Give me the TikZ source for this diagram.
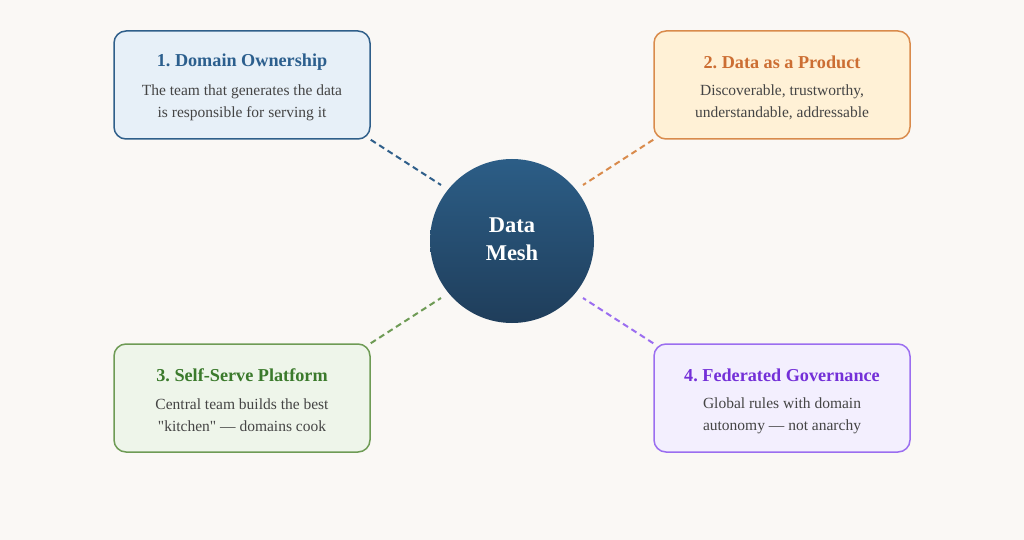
\documentclass[tikz,border=0pt]{standalone}
\usepackage{fontspec}
\setmainfont{Liberation Serif}
\newfontfamily\rawserif{Liberation Serif}[Ligatures=TeXOff]
\usetikzlibrary{positioning}
\definecolor{bgc}{HTML}{FAF8F5}
\definecolor{bodyc}{HTML}{444444}
\definecolor{blueS}{HTML}{2F5F8A}\definecolor{blueF}{HTML}{E7F0F8}\definecolor{blueT}{HTML}{2C5F8E}
\definecolor{orS}{HTML}{D98B4C}\definecolor{orF}{HTML}{FFF1D6}\definecolor{orT}{HTML}{CC6E33}
\definecolor{grS}{HTML}{6E9B55}\definecolor{grF}{HTML}{EEF5EA}\definecolor{grT}{HTML}{3B7A2C}
\definecolor{puS}{HTML}{9B6EF0}\definecolor{puF}{HTML}{F3EFFE}\definecolor{puT}{HTML}{7430D8}
\definecolor{circTop}{HTML}{2C5E87}\definecolor{circBot}{HTML}{1F3D5A}
\frenchspacing
\tikzset{
  card/.style={draw=#1, line width=1.5pt, rounded corners=12pt, minimum width=256pt, minimum height=108pt, inner sep=0pt},
  ttl/.style={font=\fontsize{18.2}{21}\selectfont\bfseries, text=#1, inner sep=0pt},
  bodytxt/.style={font=\fontsize{15.5}{22}\selectfont, text=bodyc, align=center, inner sep=0pt},
  link/.style={draw=#1, line width=2pt, dash pattern=on 6pt off 4pt},
}
\begin{document}
\begin{tikzpicture}[x=1pt,y=-1pt]
\fill[bgc] (0,0) rectangle (1024,540);
\useasboundingbox (0,0) rectangle (1024,540);
% center
\node[circle, minimum size=164pt, inner sep=0pt, draw=none,
  path picture={\shade[top color=circTop, bottom color=circBot]
    ([shift={(-2pt,2pt)}]path picture bounding box.north west) rectangle ([shift={(2pt,-2pt)}]path picture bounding box.south east);}] (hub) at (512,241) {};
\node[font=\fontsize{22.5}{28}\selectfont\bfseries, text=white, align=center] (hubtxt) at (512,239) {Data\\Mesh};
% cards
\node[card=blueS, fill=blueF] (c1) at (242,85) {};
\node[card=orS, fill=orF] (c2) at (782,85) {};
\node[card=grS, fill=grF] (c3) at (242,398) {};
\node[card=puS, fill=puF] (c4) at (782,398) {};
% texts
\node[ttl=blueT] (t1) at (242,62.5) {1. Domain Ownership};
\node[bodytxt] (b1) at (242,102.5) {The team that generates the data\\is responsible for serving it};
\node[ttl=orT] (t2) at (782,62.5) {2. Data as a Product};
\node[bodytxt] (b2) at (782,102.5) {Discoverable, trustworthy,\\understandable, addressable};
\node[ttl=grT] (t3) at (242,375.5) {3. Self-Serve Platform};
\node[bodytxt] (b3) at (242,415.5) {Central team builds the best\\{\rawserif "kitchen"} — domains cook};
\node[ttl=puT] (t4) at (782,375.5) {4. Federated Governance};
\node[bodytxt] (b4) at (782,415.5) {Global rules with domain\\autonomy — not anarchy};
% link ends near the hub
\coordinate (e1) at (441,185);
\coordinate (e2) at (583,185);
\coordinate (e3) at (441,298);
\coordinate (e4) at (583,298);
% links
\path[link=blueS] (c1.south east) -- (e1);
\path[link=orS] (c2.south west) -- (e2);
\path[link=grS] (c3.north east) -- (e3);
\path[link=puS] (c4.north west) -- (e4);
\end{tikzpicture}
\end{document}
